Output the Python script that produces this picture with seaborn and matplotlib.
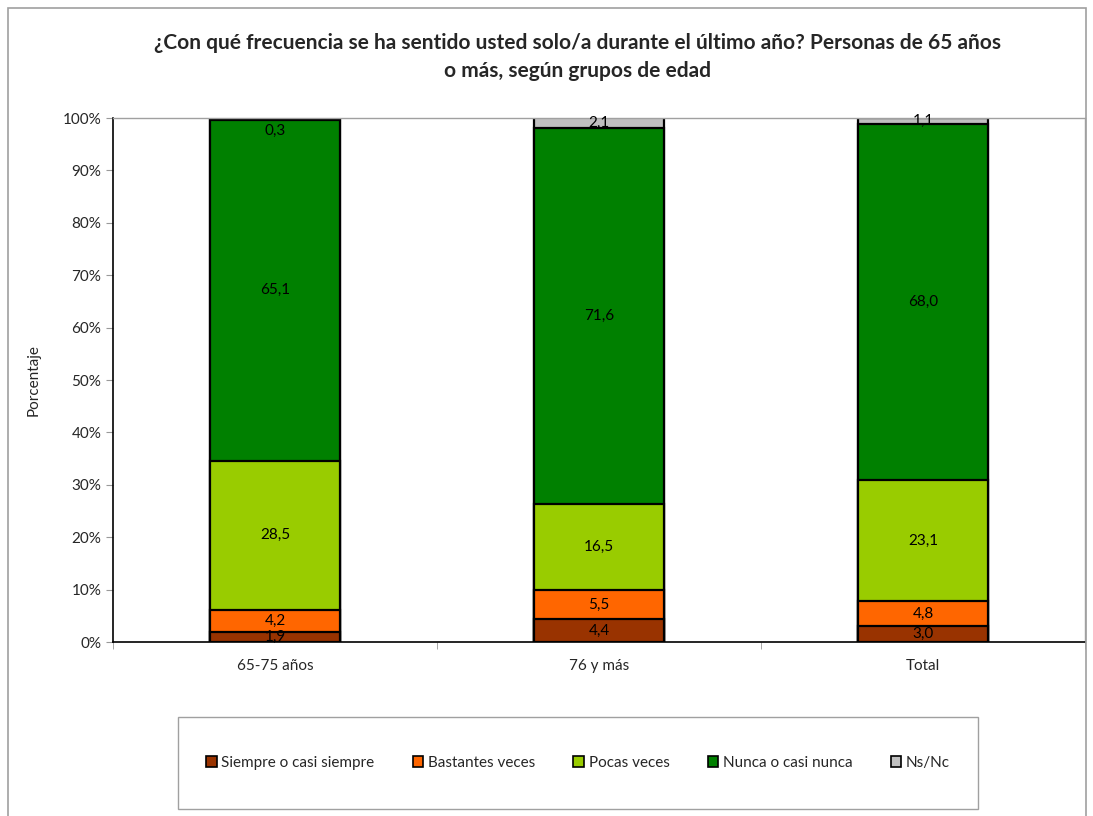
import numpy as np
import pandas as pd
import matplotlib
matplotlib.use("Agg")
import matplotlib.pyplot as plt
import matplotlib.ticker as mticker
from matplotlib.patches import Patch, Rectangle
import seaborn as sns

# data
groups = ["65-75 años", "76 y más", "Total"]
series = ["Siempre o casi siempre", "Bastantes veces", "Pocas veces",
          "Nunca o casi nunca", "Ns/Nc"]
siempre = [1.9, 4.4, 3.0]
bastantes = [4.2, 5.5, 4.8]
pocas = [28.5, 16.5, 23.1]
nunca = [65.1, 71.6, 68.0]
nsnc = [0.3, 2.1, 1.1]
colors = ["#993300", "#FF6600", "#99CC00", "#008000", "#C0C0C0"]

title = ("¿Con qué frecuencia se ha sentido usted solo/a durante el último año? Personas de 65 años\n"
         "o más, según grupos de edad")

sns.set_style("white")
plt.rcParams["font.family"] = ["Lato", "DejaVu Sans"]

vals = np.array([siempre, bastantes, pocas, nunca, nsnc])
cum = vals.cumsum(axis=0)
bottoms = cum - vals

fig = plt.figure(figsize=(10.93, 8.16), dpi=100)
ax = fig.add_axes([113 / 1093, 1 - 642 / 816, (1085 - 113) / 1093, (642 - 118) / 816])

# stacked bars: draw cumulative totals from the top layer down
for i in range(len(series) - 1, -1, -1):
    df = pd.DataFrame({"grupo": groups, "valor": cum[i]})
    sns.barplot(data=df, x="grupo", y="valor", color=colors[i], width=0.403,
                edgecolor="black", linewidth=1.6, saturation=1, ax=ax)

# data labels
for i in range(len(series)):
    for j in range(len(groups)):
        y = bottoms[i, j] + vals[i, j] / 2
        if vals[i, j] < 1:
            y = cum[i, j] - 2.5
        ax.text(j, y, f"{vals[i, j]:.1f}".replace(".", ","), ha="center", va="center",
                fontsize=11, color="black")

ax.set_ylim(0, 100)
ax.set_xlim(-0.5, 2.5)
ax.yaxis.set_major_locator(mticker.MultipleLocator(10))
ax.yaxis.set_major_formatter(mticker.FuncFormatter(lambda v, p: f"{v:.0f}%"))
ax.tick_params(axis="y", labelsize=11, length=5, color="#999999", direction="out", left=True)
ax.tick_params(axis="x", which="major", labelsize=11, length=0, pad=12)
ax.set_xticks([-0.5, 0.5, 1.5, 2.5], minor=True)
ax.tick_params(axis="x", which="minor", length=5, color="#999999", direction="out", bottom=True)
ax.set_xlabel("")
ax.set_ylabel("Porcentaje", fontsize=11)
ax.yaxis.set_label_coords(-72 / 972, 0.5)

for s in ["left", "bottom"]:
    ax.spines[s].set_color("black")
    ax.spines[s].set_linewidth(1.2)
for s in ["top", "right"]:
    ax.spines[s].set_color("#A0A0A0")
    ax.spines[s].set_linewidth(1.0)

fig.text(578 / 1093, 1 - 57 / 816, title, ha="center", va="center", fontsize=15,
         fontweight="bold", linespacing=1.45)

# legend
handles = [Patch(facecolor=c, edgecolor="black", linewidth=1.2, label=s) for c, s in zip(colors, series)]
leg = fig.legend(handles=handles, loc="center", bbox_to_anchor=(578 / 1093, 1 - 763 / 816),
                 ncol=5, frameon=False, fontsize=11, handlelength=0.7, handleheight=0.7,
                 handletextpad=0.3, columnspacing=2.5)
fig.patches.append(Rectangle((178 / 1093, 1 - 809 / 816), 800 / 1093, 92 / 816,
                             transform=fig.transFigure, fill=False, edgecolor="#A0A0A0",
                             linewidth=1.0))
# outer frame
fig.patches.append(Rectangle((8 / 1093, -0.05), 1078 / 1093, 1.05 - 8 / 816,
                             transform=fig.transFigure, fill=False, edgecolor="#A0A0A0",
                             linewidth=1.2))

fig.savefig("out.png", dpi=100)
